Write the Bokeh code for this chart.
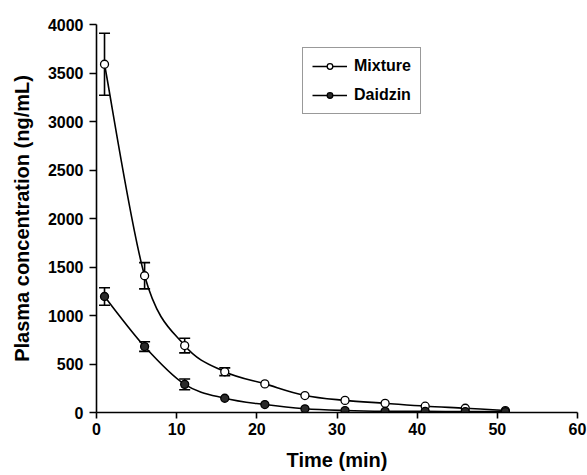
from bokeh.plotting import figure
from bokeh.models import ColumnDataSource, Whisker, Legend, LegendItem, FixedTicker
from bokeh.embed import file_html
from bokeh.resources import INLINE

# ---- data ----
time_min = [1, 6, 11, 16, 21, 26, 31, 36, 41, 46, 51]
mixture = [3590, 1410, 690, 420, 295, 175, 125, 95, 65, 44, 20]
mixture_err = [320, 135, 75, 40, 0, 0, 0, 0, 0, 0, 0]
daidzin = [1196, 680, 290, 147, 82, 38, 20, 12, 12, 10, 10]
daidzin_err = [90, 50, 55, 0, 0, 0, 0, 0, 0, 0, 0]
x_ticks = [0, 10, 20, 30, 40, 50, 60]
y_ticks = [0, 500, 1000, 1500, 2000, 2500, 3000, 3500, 4000]

FONT = "Liberation Sans"


def smooth_segments(xs, ys):
    """Catmull-Rom style cubic Bezier segments through the data points."""
    n = len(xs)
    seg = dict(x0=[], y0=[], x1=[], y1=[], cx0=[], cy0=[], cx1=[], cy1=[])
    for i in range(n - 1):
        im = max(i - 1, 0)
        ip = min(i + 2, n - 1)
        seg["x0"].append(xs[i]); seg["y0"].append(ys[i])
        seg["x1"].append(xs[i + 1]); seg["y1"].append(ys[i + 1])
        seg["cx0"].append(xs[i] + (xs[i + 1] - xs[im]) / 6.0)
        seg["cy0"].append(ys[i] + (ys[i + 1] - ys[im]) / 6.0)
        seg["cx1"].append(xs[i + 1] - (xs[ip] - xs[i]) / 6.0)
        seg["cy1"].append(ys[i + 1] - (ys[ip] - ys[i]) / 6.0)
    return ColumnDataSource(seg)


p = figure(width=587, height=475, x_range=(0, 60), y_range=(0, 4000),
           output_backend="svg", toolbar_location=None,
           min_border_left=96, min_border_right=10, min_border_top=24, min_border_bottom=63)
p.outline_line_color = None
p.xgrid.visible = False
p.ygrid.visible = False
p.background_fill_color = "white"
p.border_fill_color = "white"

for ax in (p.xaxis[0], p.yaxis[0]):
    ax.axis_line_color = "black"
    ax.axis_line_width = 1.6
    ax.major_tick_line_color = "black"
    ax.major_tick_line_width = 1.6
    ax.major_tick_in = 0
    ax.minor_tick_line_color = None
    ax.major_label_text_font = FONT
    ax.major_label_text_font_style = "bold"
    ax.major_label_text_font_size = "16px"
    ax.major_label_text_color = "black"
    ax.axis_label_text_font = FONT
    ax.axis_label_text_font_style = "bold"
    ax.axis_label_text_font_size = "20px"
    ax.axis_label_text_color = "black"

p.xaxis[0].ticker = FixedTicker(ticks=x_ticks)
p.yaxis[0].ticker = FixedTicker(ticks=y_ticks)
p.xaxis[0].major_tick_out = 6
p.yaxis[0].major_tick_out = 7
p.xaxis[0].major_label_standoff = 4
p.yaxis[0].major_label_standoff = 6
p.xaxis[0].axis_label = "Time (min)"
p.yaxis[0].axis_label = "Plasma concentration (ng/mL)"
p.xaxis[0].axis_label_standoff = 11
p.yaxis[0].axis_label_standoff = 12


def add_series(ys, errs, fill):
    xs_e = [x for x, e in zip(time_min, errs) if e > 0]
    ys_e = [y for y, e in zip(ys, errs) if e > 0]
    es = [e for e in errs if e > 0]
    esrc = ColumnDataSource(dict(x=xs_e,
                                 lo=[y - e for y, e in zip(ys_e, es)],
                                 hi=[y + e for y, e in zip(ys_e, es)]))
    w = Whisker(source=esrc, base="x", lower="lo", upper="hi",
                line_color="black", line_width=1.6)
    w.upper_head.size = 11
    w.lower_head.size = 11
    w.upper_head.line_width = 1.6
    w.lower_head.line_width = 1.6
    p.add_layout(w)
    curve = p.bezier(x0="x0", y0="y0", x1="x1", y1="y1", cx0="cx0", cy0="cy0",
                     cx1="cx1", cy1="cy1", source=smooth_segments(time_min, ys),
                     line_color="black", line_width=1.6)
    pts = p.scatter(time_min, ys, marker="circle", size=8, fill_color=fill,
                    line_color="black", line_width=1.3)
    return curve, pts


c1, s1 = add_series(mixture, mixture_err, "white")
c2, s2 = add_series(daidzin, daidzin_err, "#2a2a2a")

legend = Legend(items=[LegendItem(label="Mixture", renderers=[c1, s1]),
                       LegendItem(label="Daidzin", renderers=[c2, s2])],
                location=(206, 298))
legend.border_line_color = "#333333"
legend.border_line_width = 1.4
legend.background_fill_color = "white"
legend.background_fill_alpha = 1.0
legend.label_text_font = FONT
legend.label_text_font_style = "bold"
legend.label_text_font_size = "16px"
legend.label_text_color = "black"
legend.glyph_width = 35
legend.glyph_height = 14
legend.label_height = 14
legend.label_standoff = 7
legend.padding = 9
legend.spacing = 11
legend.margin = 0
p.add_layout(legend, "center")

open("out.html", "w").write(file_html(p, INLINE))
